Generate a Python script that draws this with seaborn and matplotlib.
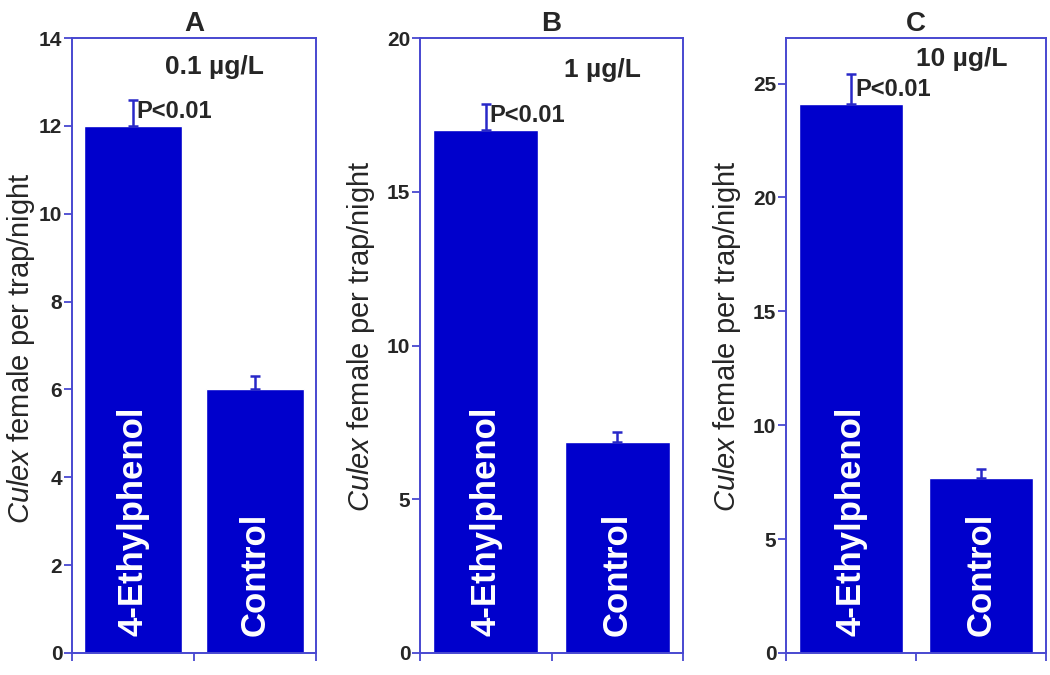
import matplotlib
matplotlib.use("Agg")
import matplotlib.pyplot as plt
import seaborn as sns
import pandas as pd

sns.set_style("white")
plt.rcParams['font.family'] = ['Liberation Sans', 'DejaVu Sans']
plt.rcParams['mathtext.fontset'] = 'custom'
plt.rcParams['mathtext.it'] = 'Liberation Sans:italic'
plt.rcParams['mathtext.rm'] = 'Liberation Sans'

# datos
panels = ["A", "B", "C"]
doses = ["0.1 µg/L", "1 µg/L", "10 µg/L"]
groups = ["4-Ethylphenol", "Control"]
means_a = [12.0, 6.0]
means_b = [17.0, 6.85]
means_c = [24.1, 7.7]
sem_a = [0.6, 0.3]
sem_b = [0.85, 0.35]
sem_c = [1.3, 0.4]
ymax = [14, 20, 27]
yticks = [[0, 2, 4, 6, 8, 10, 12, 14], [0, 5, 10, 15, 20], [0, 5, 10, 15, 20, 25]]

bar_color = "#0000cc"
edge_blue = "#4848d0"

fig = plt.figure(figsize=(10.5, 6.75), dpi=100)
# posicion de los ejes en pixeles: izquierda, ancho
lefts = [72, 420, 786]
widths = [244, 263, 260]
# posicion del texto de dosis (fraccion de ejes) y de la etiqueta y
dose_pos = [(0.585, 0.972), (0.695, 0.967), (0.675, 0.985)]
ylab_pos = [(-35, 0.495), (-43, 0.515), (-43, 0.515)]

all_means = [means_a, means_b, means_c]
all_sem = [sem_a, sem_b, sem_c]

for i in range(3):
    ax = fig.add_axes([lefts[i] / 1050, 22 / 675, widths[i] / 1050, 615 / 675])
    df = pd.DataFrame({"grupo": groups, "valor": all_means[i]})
    sns.barplot(data=df, x="grupo", y="valor", color=bar_color, width=0.8,
                saturation=1, ax=ax)
    ax.errorbar([0, 1], all_means[i], yerr=[[0, 0], all_sem[i]], fmt="none",
                ecolor="#2828c8", elinewidth=1.8, capsize=3.5, capthick=1.8)
    ax.set_xlim(-0.5, 1.5)
    ax.set_ylim(0, ymax[i])
    ax.set_yticks(yticks[i])
    ax.set_yticklabels([str(t) for t in yticks[i]], fontsize=15, fontweight="bold")
    ax.set_xticks([-0.5, 0.5, 1.5])
    ax.set_xticklabels([])
    ax.set_xlabel("")
    ax.set_ylabel(r"$\mathit{Culex}$ female per trap/night", fontsize=21)
    ax.yaxis.set_label_coords(ylab_pos[i][0] / widths[i], ylab_pos[i][1])
    ax.tick_params(axis="both", direction="out", length=6, width=1.3,
                   color=edge_blue, left=True, bottom=True, pad=1)
    for s in ax.spines.values():
        s.set_color(edge_blue)
        s.set_linewidth(1.4)
    ax.set_title(panels[i], fontsize=20, fontweight="bold", pad=5)
    ax.text(dose_pos[i][0], dose_pos[i][1], doses[i], transform=ax.transAxes,
            ha="center", va="top", fontsize=19, fontweight="bold")
    ax.annotate("P<0.01", (0.03, all_means[i][0]), xytext=(0, 2),
                textcoords="offset points", ha="left", va="bottom",
                fontsize=17, fontweight="bold")
    for j in range(2):
        ax.text(j, 0.028, groups[j], rotation=90, ha="center", va="bottom",
                transform=ax.get_xaxis_transform(),
                color="white", fontsize=25, fontweight="bold")

fig.savefig("out.png", dpi=100)
